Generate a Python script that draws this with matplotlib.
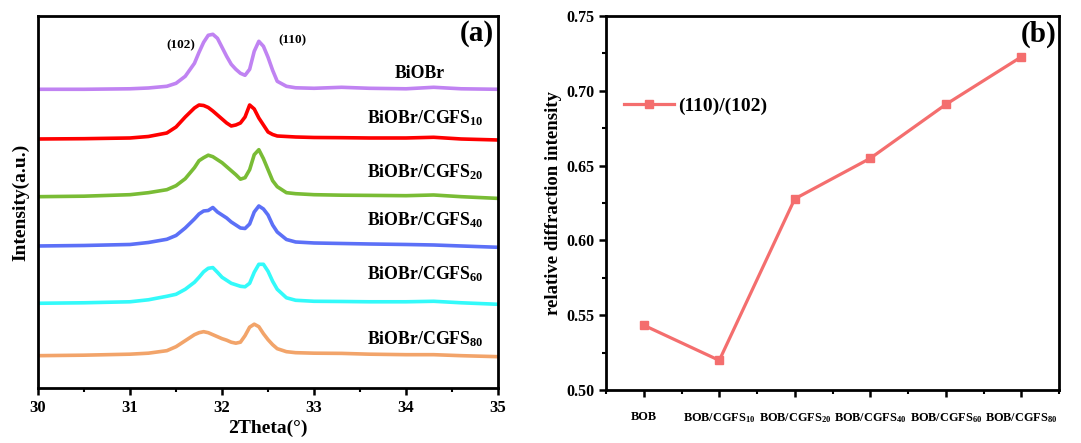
import matplotlib
matplotlib.use("Agg")
import matplotlib.pyplot as plt
import numpy as np
from matplotlib.ticker import MultipleLocator

plt.rcParams["font.family"] = ["Liberation Serif", "DejaVu Serif"]
plt.rcParams["font.weight"] = "bold"
plt.rcParams["mathtext.fontset"] = "custom"
plt.rcParams["mathtext.rm"] = "Liberation Serif:bold"
plt.rcParams["mathtext.it"] = "Liberation Serif:bold"
plt.rcParams["mathtext.bf"] = "Liberation Serif:bold"

# ---- panel (a): XRD patterns (net intensity above each baseline) ----
two_theta = [30.0, 30.5, 31.0, 31.2, 31.4, 31.5, 31.6, 31.7, 31.75, 31.8,
             31.85, 31.9, 31.95, 32.0, 32.05, 32.1, 32.15, 32.2, 32.25, 32.3,
             32.35, 32.4, 32.45, 32.5, 32.55, 32.6, 32.7, 32.8, 33.0, 33.3,
             33.6, 34.0, 34.3, 34.6, 35.0]

bioBr = [0, 0, 0.5, 1.3, 3, 6, 13, 26, 37, 47,
         54, 55, 51, 42, 33, 25, 20, 16, 14, 20,
         38, 48, 43, 32, 19, 8, 3, 1.5, 1, 2,
         1, 0.5, 2, 0.5, 0]
cgfs10 = [0, 0.3, 1, 2.5, 6, 12, 22, 31, 34, 33.5,
          31.5, 28, 24, 20, 16, 13, 14, 16, 22, 34,
          30, 21, 14, 7, 4.5, 3, 2.5, 2, 1.5, 1.3,
          1, 1, 1.7, 0, -1]
cgfs20 = [0, 0.5, 2, 4, 7, 11, 18, 29, 36, 39,
          41.5, 40, 37, 34, 30, 26, 22, 17.5, 19, 27,
          42, 47, 38, 27, 16, 10, 4, 3, 2, 1.5,
          1.3, 1, 1.7, 0, -1.7]
cgfs40 = [0, 0.5, 1.5, 3.5, 6.7, 10.5, 18, 27, 32, 35,
          35.5, 38.5, 34, 31, 28, 24, 21, 18, 17.5, 22,
          34, 40, 37, 31, 21, 14, 6.5, 4, 3, 2.5,
          2, 1.5, 1, 0, -1.3]
cgfs60 = [0, 0.5, 1.5, 3.5, 7, 9, 14, 21, 26, 31.5,
          35, 35.7, 31, 26, 23, 20, 18.5, 17, 16.5, 20,
          31, 39, 39, 32, 22, 14, 5.5, 3, 2, 1.8,
          1.5, 1.5, 2, 0.5, -1]
cgfs80 = [0, 0.5, 1.5, 2.5, 5, 9, 15, 21, 23, 24,
          23, 21, 19, 17, 15.5, 13.5, 12.5, 13.5, 20, 28.5,
          31.5, 29, 22, 16, 11, 7, 4, 3, 2.5, 2.3,
          1.5, 1, 1, 0, -1]

patterns = [bioBr, cgfs10, cgfs20, cgfs40, cgfs60, cgfs80]
pattern_labels = ["BiOBr", "BiOBr/CGFS$_{10}$", "BiOBr/CGFS$_{20}$",
                  "BiOBr/CGFS$_{40}$", "BiOBr/CGFS$_{60}$", "BiOBr/CGFS$_{80}$"]
pattern_colors = ["#C083F2", "#FF0000", "#79BC35", "#5C70F7", "#33FAFA", "#F2A46A"]
baselines = [298.7, 249, 191.3, 142, 84.7, 32.3]
label_heights = [314.7, 269.7, 215.7, 168, 114, 48.7]

# ---- panel (b): intensity ratio ----
samples = ["BOB", "BOB/CGFS$_{10}$", "BOB/CGFS$_{20}$",
           "BOB/CGFS$_{40}$", "BOB/CGFS$_{60}$", "BOB/CGFS$_{80}$"]
ratio = [0.5433, 0.5198, 0.6278, 0.6549, 0.6909, 0.7227]

fig = plt.figure(figsize=(10.81, 4.43), dpi=100)
ax1 = fig.add_axes([0.0352, 0.1242, 0.4255, 0.8397])
ax2 = fig.add_axes([0.5606, 0.1196, 0.4191, 0.8442])

for y, base, color, label, lh in zip(patterns, baselines, pattern_colors,
                                     pattern_labels, label_heights):
    ax1.plot(two_theta, np.array(y) + base, color=color, lw=2.6)
    if label == "BiOBr":
        ax1.text(34.15, lh, label, ha="center", va="center", fontsize=12.8,
                 fontweight="bold")
    else:
        ax1.text(34.84, lh, label, ha="right", va="center", fontsize=12.8,
                 fontweight="bold")

ax1.text(31.55, 343, "(102)", ha="center", va="center", fontsize=9.5,
         fontweight="bold")
ax1.text(32.76, 348, "(110)", ha="center", va="center", fontsize=9.5,
         fontweight="bold")
ax1.text(0.954, 0.954, "(a)", transform=ax1.transAxes, ha="center",
         va="center", fontsize=21, fontweight="bold")

ax1.set_xlim(30, 35)
ax1.set_ylim(0, 372)
ax1.set_yticks([])
ax1.xaxis.set_major_locator(MultipleLocator(1))
ax1.xaxis.set_minor_locator(MultipleLocator(0.5))
ax1.tick_params(axis="x", which="major", direction="out", length=5, width=1.8,
                labelsize=12, pad=4)
ax1.tick_params(axis="x", which="minor", direction="out", length=3, width=1.5)
ax1.set_xlabel("2Theta(°)", fontsize=14, fontweight="bold", labelpad=2)
ax1.set_ylabel("Intensity(a.u.)", fontsize=14, fontweight="bold", labelpad=6)

ax2.plot(range(len(samples)), ratio, color="#F46E6E", lw=2.3, marker="s",
         markersize=5.5, label="(110)/(102)")
ax2.set_xlim(-0.5, 5.5)
ax2.set_ylim(0.50, 0.75)
ax2.set_xticks(range(len(samples)))
ax2.set_xticklabels(samples, fontsize=8.8, fontweight="bold")
ax2.xaxis.set_minor_locator(MultipleLocator(0.5))
ax2.yaxis.set_major_locator(MultipleLocator(0.05))
ax2.yaxis.set_minor_locator(MultipleLocator(0.025))
ax2.yaxis.set_major_formatter(plt.FuncFormatter(lambda v, _: f"{v:.2f}"))
ax2.tick_params(axis="both", which="major", direction="out", length=5,
                width=1.8)
ax2.tick_params(axis="both", which="minor", direction="out", length=3,
                width=1.5)
ax2.tick_params(axis="x", which="major", pad=10)
ax2.tick_params(axis="y", labelsize=11.5)
for lbl in ax2.get_yticklabels():
    lbl.set_fontweight("bold")
ax2.set_ylabel("relative diffraction intensity", fontsize=13.5,
               fontweight="bold", labelpad=3)
ax2.text(0.954, 0.95, "(b)", transform=ax2.transAxes, ha="center",
         va="center", fontsize=21, fontweight="bold")
ax2.legend(loc="upper left", bbox_to_anchor=(0.0, 0.83), frameon=False,
           prop={"size": 14, "weight": "bold"}, handlelength=2.6,
           handletextpad=0.2)

for ax in (ax1, ax2):
    for spine in ax.spines.values():
        spine.set_linewidth(2.0)

fig.savefig("out.png", dpi=100)
